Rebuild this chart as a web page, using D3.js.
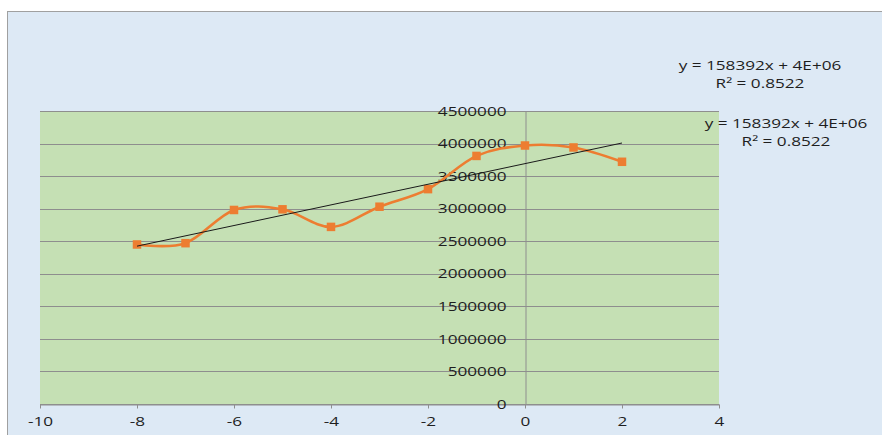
<!DOCTYPE html>
<html>
<head>
<meta charset="utf-8">
<script src="https://cdn.jsdelivr.net/npm/d3@7"></script>
<style>
  html, body { margin: 0; padding: 0; background: #ffffff; }
  svg { display: block; }
  text { font-family: "Open Sans", "Liberation Sans", sans-serif; fill: #1e1e1e; }
</style>
</head>
<body>
<svg id="chart" width="882" height="435"></svg>
<script>
// Series: x positions and measured values
const xValues = [-8, -7, -6, -5, -4, -3, -2, -1, 0, 1, 2];
const yValues = [2450000, 2470000, 2980000, 2990000, 2720000, 3030000, 3300000, 3810000, 3970000, 3940000, 3720000];

// Axis ticks
const xTicks = [-10, -8, -6, -4, -2, 0, 2, 4];
const yTicks = [0, 500000, 1000000, 1500000, 2000000, 2500000, 3000000, 3500000, 4000000, 4500000];

// Linear trendline slope and its equation labels
const trendSlope = 158392;
const trendLabels = ["y = 158392x + 4E+06", "R² = 0.8522"];

const W = 882, H = 435;
const plot = { left: 40, top: 111, right: 719, bottom: 404 };
const stretch = 1.32; // horizontal widening of all text glyphs

const svg = d3.select("#chart");

// Chart area with its border
svg.append("rect")
  .attr("x", 7.5).attr("y", 11.5)
  .attr("width", W).attr("height", H)
  .attr("fill", "#dde9f5")
  .attr("stroke", "#a0a0a0").attr("stroke-width", 1);

// Plot area
svg.append("rect")
  .attr("x", plot.left).attr("y", plot.top)
  .attr("width", plot.right - plot.left).attr("height", plot.bottom - plot.top)
  .attr("fill", "#c5e0b4");

const x = d3.scaleLinear().domain([-10, 4]).range([plot.left, plot.right]);
const y = d3.scaleLinear().domain([0, 4500000]).range([plot.bottom, plot.top]);

// Horizontal gridlines
svg.append("g")
  .selectAll("line")
  .data(yTicks)
  .join("line")
  .attr("x1", plot.left).attr("x2", plot.right)
  .attr("y1", d => Math.round(y(d)) + 0.5).attr("y2", d => Math.round(y(d)) + 0.5)
  .attr("stroke", "#8e8e8e").attr("stroke-width", 1);

function widenText(sel) {
  sel.selectAll("text").each(function () {
    const t = d3.select(this);
    const tx = +t.attr("x") || 0;
    t.attr("x", tx / stretch).attr("transform", `scale(${stretch},1)`);
  });
}

// X axis along the bottom of the plot area
const xAxis = svg.append("g")
  .attr("transform", `translate(0,${plot.bottom + 0.5})`)
  .call(d3.axisBottom(x).tickValues(xTicks).tickSize(4).tickPadding(8).tickSizeOuter(0)
        .tickFormat(d => d < 0 ? "-" + Math.abs(d) : String(d)));
xAxis.select(".domain").attr("stroke", "#8e8e8e");
xAxis.selectAll(".tick line").attr("stroke", "#8e8e8e");
xAxis.selectAll("text").attr("font-size", 13).attr("fill", "#1e1e1e")
  .attr("font-family", '"Open Sans", sans-serif');
widenText(xAxis);

// Y axis crossing at x = 0
const yAxis = svg.append("g")
  .attr("transform", `translate(${Math.round(x(0)) + 0.5},0)`)
  .call(d3.axisLeft(y).tickValues(yTicks).tickSize(0).tickPadding(19).tickSizeOuter(0)
        .tickFormat(d3.format("d")));
yAxis.select(".domain").attr("stroke", "#8e8e8e");
yAxis.selectAll("text").attr("font-size", 13).attr("fill", "#1e1e1e")
  .attr("font-family", '"Open Sans", sans-serif');
widenText(yAxis);

// Smoothed data line
const data = xValues.map((d, i) => ({ x: d, y: yValues[i] }));
const line = d3.line().x(d => x(d.x)).y(d => y(d.y)).curve(d3.curveCardinal.tension(0));
svg.append("path")
  .datum(data)
  .attr("d", line)
  .attr("fill", "none")
  .attr("stroke", "#ed7d31")
  .attr("stroke-width", 2.6)
  .attr("stroke-linejoin", "round");

// Square markers
const ms = 8.5;
svg.append("g")
  .selectAll("rect")
  .data(data)
  .join("rect")
  .attr("x", d => x(d.x) - ms / 2)
  .attr("y", d => y(d.y) - ms / 2)
  .attr("width", ms).attr("height", ms)
  .attr("fill", "#ed7d31");

// Least-squares trendline through the data mean with the stated slope
const meanX = d3.mean(xValues), meanY = d3.mean(yValues);
const intercept = meanY - trendSlope * meanX;
const xExt = d3.extent(xValues);
svg.append("line")
  .attr("x1", x(xExt[0])).attr("y1", y(intercept + trendSlope * xExt[0]))
  .attr("x2", x(xExt[1])).attr("y2", y(intercept + trendSlope * xExt[1]))
  .attr("stroke", "#1a1a1a").attr("stroke-width", 1);

// Trendline equation labels (two copies)
const labelSpots = [
  { cx: 760, baselines: [70, 88] },
  { cx: 786, baselines: [128, 146] }
];
labelSpots.forEach(spot => {
  const g = svg.append("g").attr("transform", `translate(${spot.cx},0) scale(${stretch},1)`);
  g.selectAll("text")
    .data(trendLabels)
    .join("text")
    .attr("x", 0)
    .attr("y", (d, i) => spot.baselines[i])
    .attr("text-anchor", "middle")
    .attr("font-size", 13)
    .text(d => d);
});
</script>
</body>
</html>
